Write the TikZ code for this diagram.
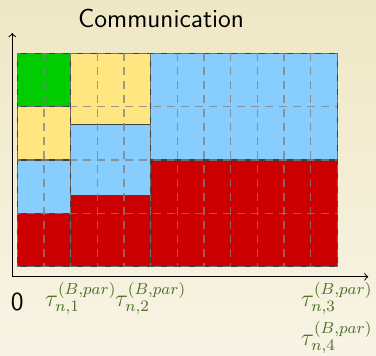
\documentclass[tikz,border=0pt]{standalone}
\usepackage{tikz}
\usetikzlibrary{positioning}
\definecolor{slotgreen}{RGB}{0,204,0}
\definecolor{slotyellow}{RGB}{255,230,128}
\definecolor{slotblue}{RGB}{135,206,255}
\definecolor{slotred}{RGB}{204,0,0}
\definecolor{tickgreen}{RGB}{78,110,40}
\definecolor{bgtop}{RGB}{239,231,196}
\definecolor{bgbottom}{RGB}{248,244,229}

\begin{document}
\begin{tikzpicture}[
    x=13.333pt, y=26.667pt,
    slot/.style={draw=black!75, line width=0.6pt},
    gridline/.style={draw=gray, draw opacity=0.75, dash pattern=on 4pt off 3pt, dash phase=2pt, line width=0.8pt},
    axis/.style={->, line width=0.5pt},
    tick/.style={text=tickgreen, font=\fontsize{12}{14}\selectfont, inner sep=1pt},
    plain/.style={font=\sffamily\fontsize{13}{15}\selectfont, inner sep=0pt}
]
    % background
    \shade[top color=bgtop, bottom color=bgbottom] (-0.65,-1.656) rectangle (13.45,5.0);
    \useasboundingbox (-0.65,-1.656) rectangle (13.45,5.0);

    % slots
    \filldraw[slot, fill=slotred]    (0,0) rectangle (2,1);
    \filldraw[slot, fill=slotblue]   (0,1) rectangle (2,2);
    \filldraw[slot, fill=slotyellow] (0,2) rectangle (2,3);
    \filldraw[slot, fill=slotgreen]  (0,3) rectangle (2,4);
    \filldraw[slot, fill=slotred]    (2,0) rectangle (5,1.33);
    \filldraw[slot, fill=slotblue]   (2,1.33) rectangle (5,2.67);
    \filldraw[slot, fill=slotyellow] (2,2.67) rectangle (5,4);
    \filldraw[slot, fill=slotred]    (5,0) rectangle (12,2);
    \filldraw[slot, fill=slotblue]   (5,2) rectangle (12,4);

    % grid
    \foreach \i in {0,...,12}
        \draw[gridline] (\i,0) -- (\i,4);
    \foreach \j in {0,...,4}
        \draw[gridline] (0,\j) -- (12,\j);

    % axes
    \coordinate (orig) at (-0.19,-0.19);
    \coordinate (ytop) at (-0.19,4.38);
    \coordinate (xend) at (13.16,-0.19);
    \draw[axis] (orig) -- (ytop);
    \draw[axis] (orig) -- (xend);

    \node[plain] (title) at (5.39,4.66) {Communication};
    \node[plain] (zero) at (0,-0.656) {0};

    \node[tick] (t1) at (2.38,-0.594) {$\tau_{n,1}^{(B,par)}$};
    \node[tick] (t2) at (5.0,-0.594) {$\tau_{n,2}^{(B,par)}$};
    \node[tick] (t3) at (11.98,-0.594) {$\tau_{n,3}^{(B,par)}$};
    \node[tick, below=1pt of t3] (t4) {$\tau_{n,4}^{(B,par)}$};
\end{tikzpicture}
\end{document}
